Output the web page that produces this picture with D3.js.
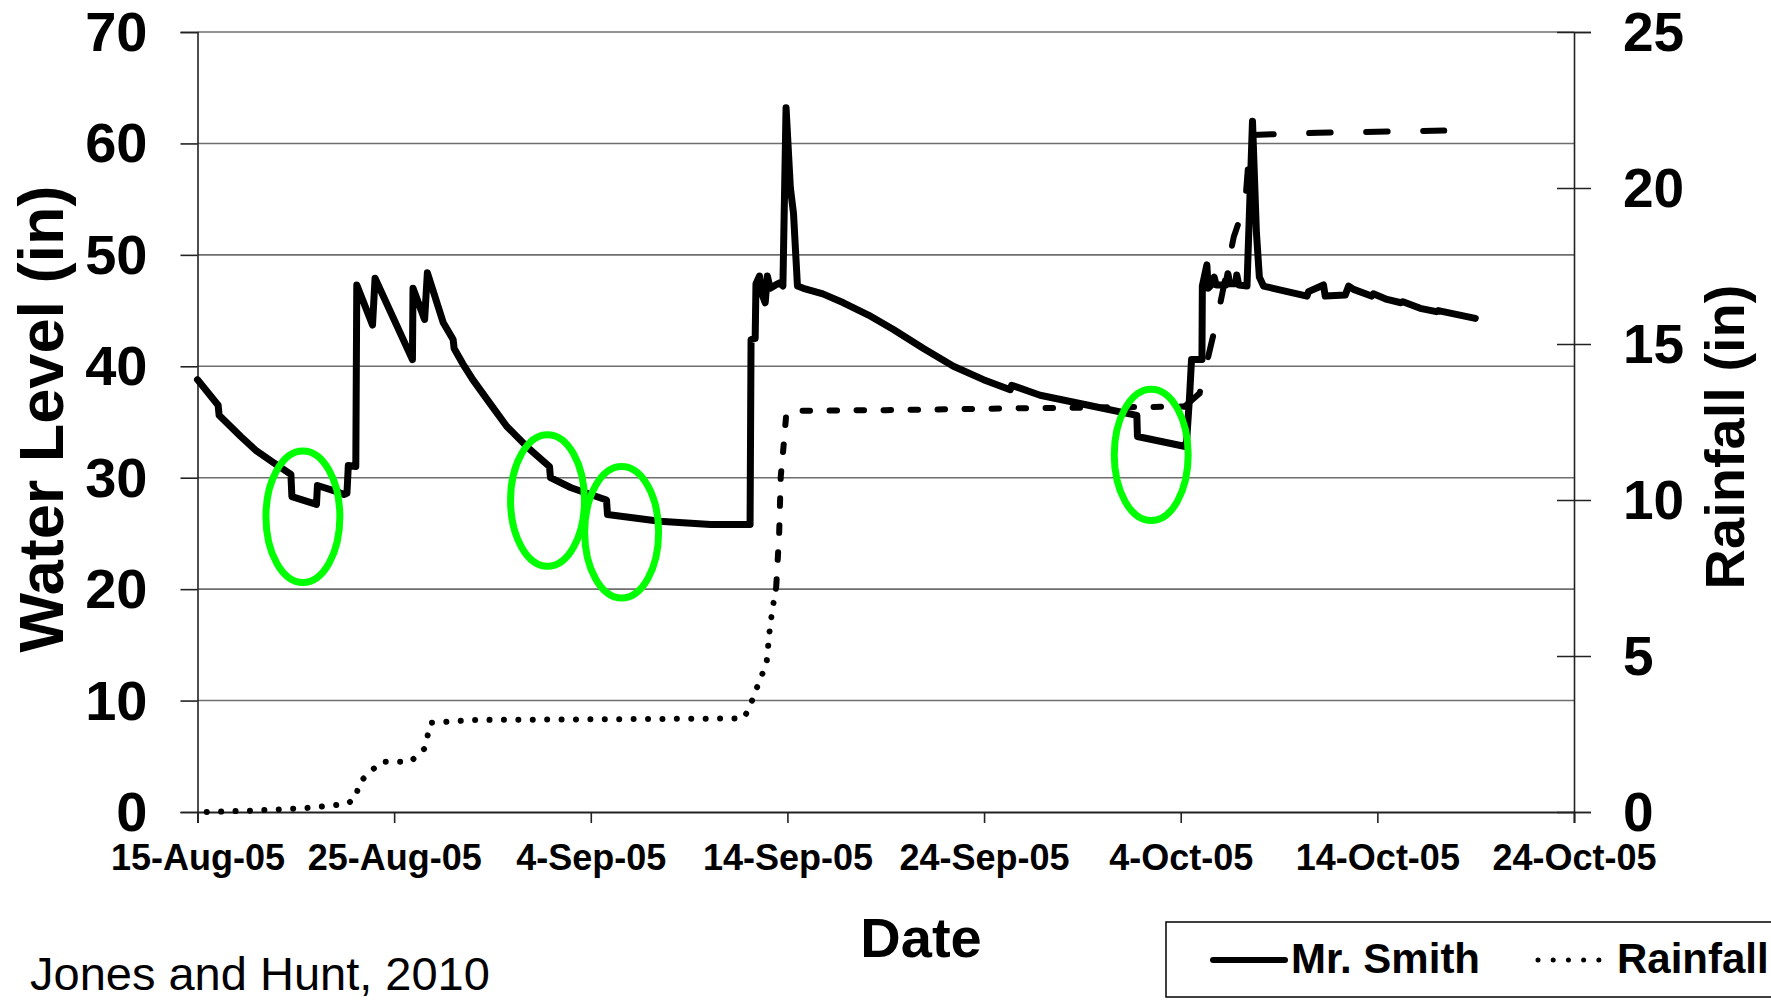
<!DOCTYPE html>
<html>
<head>
<meta charset="utf-8">
<script src="https://cdn.jsdelivr.net/npm/d3@7"></script>
<style>
  html, body { margin: 0; padding: 0; background: #fff; }
  svg { display: block; }
  text { font-family: "Liberation Sans", Arial, sans-serif; fill: #000; }
</style>
</head>
<body>
<svg id="chart" width="1771" height="1000"></svg>
<script>
// ---------------- DATA ----------------
// Time is given as days elapsed since 15-Aug-2005 00:00.
const startDate = "2005-08-15";
const endDate = "2005-10-24";
const xTickDates = ["2005-08-15","2005-08-25","2005-09-04","2005-09-14","2005-09-24","2005-10-04","2005-10-14","2005-10-24"];
const waterTicks = [0, 10, 20, 30, 40, 50, 60, 70];
const rainTicks = [0, 5, 10, 15, 20, 25];

// Mr. Smith water level (in)
const waterDays = [0.0, 1.05, 1.1, 2.2, 3.0, 3.9, 4.75, 4.8, 6.05, 6.1, 7.0, 7.45, 7.6, 7.67, 8.05, 8.1, 8.9, 9.03,
  10.93, 10.96, 11.55, 11.69, 12.5, 13.0, 13.05, 13.5, 14.0, 14.9, 15.73, 16.8, 17.9, 17.95, 19.0, 20.8, 20.85, 23.5, 26.1,
  28.1, 28.15, 28.36, 28.4, 28.58, 28.7, 28.87, 28.98, 29.12, 29.4, 29.63, 29.77, 29.93, 30.15, 30.31, 30.51, 30.81,
  31.8, 32.85, 34.12, 35.39, 36.92, 38.44, 39.97, 41.33, 41.4, 42.85, 45.3, 47.77, 47.8, 50.23, 50.3, 50.45, 50.55, 51.08, 51.1, 51.33, 51.4,
  51.6, 51.7, 51.8, 52.3, 52.4, 52.5, 52.8, 52.85, 52.95, 53.37, 53.65, 53.85, 54.0, 54.21, 54.7, 56.42, 56.5,
  57.26, 57.35, 58.37, 58.54, 58.79, 59.7, 59.8, 60.49, 61.2, 61.3, 62.18, 63.0, 63.1, 64.98];
const waterLevel = [38.8, 36.5, 35.6, 33.7, 32.4, 31.3, 30.3, 28.3, 27.6, 29.3, 28.8, 28.5, 28.6, 31.1, 31.0, 47.3, 43.7, 47.9,
  40.6, 47.0, 44.2, 48.4, 43.9, 42.4, 41.6, 40.2, 38.8, 36.6, 34.6, 32.7, 31.0, 30.0, 29.1, 28.0, 26.7, 26.1, 25.8,
  25.8, 42.4, 42.5, 47.4, 48.1, 46.5, 45.7, 48.1, 47.0, 47.3, 47.5, 47.2, 63.2, 56.0, 53.7, 47.2, 47.0,
  46.5, 45.7, 44.6, 43.3, 41.6, 40.0, 38.8, 37.9, 38.3, 37.4, 36.5, 35.6, 33.7, 32.8, 33.3, 37.3, 40.6, 40.6, 47.2, 49.1, 47.0,
  47.4, 48.0, 47.3, 47.3, 48.3, 47.4, 47.4, 48.2, 47.3, 47.2, 62.0, 52.0, 48.0, 47.2, 47.0, 46.3, 46.7,
  47.3, 46.3, 46.4, 47.2, 46.9, 46.3, 46.5, 46.0, 45.7, 45.8, 45.2, 44.9, 45.0, 44.3];

// Cumulative rainfall (in)
const rainDays = [0.47, 3.0, 5.4, 7.6, 8.06, 8.2, 8.8, 9.37, 10.83, 11.56, 11.71, 11.85, 14.0, 20.0, 27.77,
  28.05, 28.5, 28.94, 29.08, 29.23, 29.43, 29.58, 29.66, 29.8, 29.93, 30.3, 35.0, 41.8, 49.46, 50.2,
  50.96, 51.4, 51.84, 52.7, 53.28, 53.53, 53.6, 57.0, 63.4];
const rainfall = [0, 0.05, 0.12, 0.26, 0.45, 0.92, 1.3, 1.61, 1.61, 2.04, 2.47, 2.86, 2.95, 2.97, 3.0,
  3.32, 4.07, 4.77, 5.73, 6.47, 7.22, 8.93, 10.75, 11.7, 12.67, 12.86, 12.88, 12.94, 12.99, 13.0,
  13.42, 14.6, 15.77, 18.44, 19.5, 21.6, 21.7, 21.77, 21.84];

// Highlight ellipses (centre: day, water level)
const markDays = [5.36, 17.8, 21.57, 48.5];
const markLevels = [26.5, 27.96, 25.1, 32.05];

const seriesNames = ["Mr. Smith", "Rainfall"];

// ---------------- CHART ----------------
const svg = d3.select("#chart");
const W = 1771, H = 1000;
const plot = { left: 197.5, right: 1574, top: 32, bottom: 812 };
const parse = d3.utcParse("%Y-%m-%d");
const t0 = parse(startDate);
const toDate = d => new Date(t0.getTime() + d * 864e5);

const x = d3.scaleUtc().domain([t0, parse(endDate)]).range([plot.left, plot.right]);
const yL = d3.scaleLinear().domain([0, 70]).range([plot.bottom, plot.top]);
const yR = d3.scaleLinear().domain([0, 25]).range([plot.bottom, plot.top]);

svg.append("rect").attr("width", W).attr("height", H).attr("fill", "#fff");

// gridlines
svg.append("g").selectAll("line").data(waterTicks.filter(v => v > 0)).join("line")
  .attr("x1", plot.left).attr("x2", plot.right)
  .attr("y1", d => yL(d)).attr("y2", d => yL(d))
  .attr("stroke", "#6e6e6e").attr("stroke-width", 1.6);

// Left axis
const gL = svg.append("g").attr("transform", `translate(${plot.left},0)`)
  .call(d3.axisLeft(yL).tickValues(waterTicks).tickSize(17).tickFormat(d3.format("d")));
gL.select(".domain").attr("stroke", "#222").attr("stroke-width", 1.6);
gL.selectAll(".tick line").attr("stroke", "#222").attr("stroke-width", 1.6);
gL.selectAll(".tick text").attr("x", -50).attr("dy", "0.33em")
  .style("font-family", "Liberation Sans, Arial, sans-serif").style("font-size", "56px").style("font-weight", "bold");

// Right axis (cross ticks)
const gR = svg.append("g").attr("transform", `translate(${plot.right},0)`)
  .call(d3.axisRight(yR).tickValues(rainTicks).tickSize(17).tickFormat(d3.format("d")));
gR.select(".domain").attr("stroke", "#222").attr("stroke-width", 1.6);
gR.selectAll(".tick line").attr("x1", -17).attr("stroke", "#222").attr("stroke-width", 1.6);
gR.selectAll(".tick text").attr("x", 49).attr("dy", "0.33em")
  .style("font-family", "Liberation Sans, Arial, sans-serif").style("font-size", "55px").style("font-weight", "bold");

// Bottom axis
const fmt = d3.utcFormat("%-d-%b-%y");
const gB = svg.append("g").attr("transform", `translate(0,${plot.bottom})`)
  .call(d3.axisBottom(x).tickValues(xTickDates.map(parse)).tickSize(11).tickFormat(fmt));
gB.select(".domain").attr("stroke", "#222").attr("stroke-width", 1.8);
gB.selectAll(".tick line").attr("stroke", "#222").attr("stroke-width", 1.6);
gB.selectAll(".tick text").attr("y", 58).attr("dy", 0)
  .style("font-family", "Liberation Sans, Arial, sans-serif").style("font-size", "36px").style("font-weight", "bold");

// Rainfall line (pattern changes with data density in original)
const rainPts = rainDays.map((d, i) => [toDate(d), rainfall[i]]);
const rainLine = d3.line().x(p => x(p[0])).y(p => yR(p[1]));
const segBreaks = [0, 20, 29, rainPts.length - 1];
const segDash = ["0.01 14.4", "7.5 19.5", "21.5 35.5"];
for (let s = 0; s < 3; s++) {
  svg.append("path")
    .attr("d", rainLine(rainPts.slice(segBreaks[s], segBreaks[s + 1] + 1)))
    .attr("fill", "none").attr("stroke", "#000").attr("stroke-width", 6)
    .attr("stroke-linecap", "round").attr("stroke-dasharray", segDash[s]);
}

// Water level line
const waterPts = waterDays.map((d, i) => [toDate(d), waterLevel[i]]);
svg.append("path")
  .attr("d", d3.line().x(p => x(p[0])).y(p => yL(p[1]))(waterPts))
  .attr("fill", "none").attr("stroke", "#000").attr("stroke-width", 7)
  .attr("stroke-linejoin", "round").attr("stroke-linecap", "round");

// Green ellipses
svg.append("g").selectAll("ellipse").data(markDays).join("ellipse")
  .attr("cx", d => x(toDate(d)))
  .attr("cy", (d, i) => yL(markLevels[i]))
  .attr("rx", d => x(toDate(d + 1.88)) - x(toDate(d)))
  .attr("ry", (d, i) => yL(markLevels[i]) - yL(markLevels[i] + 5.9))
  .attr("fill", "none").attr("stroke", "#00ff00").attr("stroke-width", 7);

// Axis titles
svg.append("text").attr("transform", "translate(63,419) rotate(-90)")
  .attr("text-anchor", "middle").style("font-size", "63px").style("font-weight", "bold")
  .text("Water Level (in)");
svg.append("text").attr("transform", "translate(1744,437) rotate(-90)")
  .attr("text-anchor", "middle").style("font-size", "56px").style("font-weight", "bold")
  .text("Rainfall (in)");
svg.append("text").attr("x", 921).attr("y", 957).attr("text-anchor", "middle")
  .style("font-size", "56px").style("font-weight", "bold").text("Date");
svg.append("text").attr("x", 30).attr("y", 990)
  .style("font-size", "47px").text("Jones and Hunt, 2010");

// Legend
const lg = svg.append("g");
lg.append("rect").attr("x", 1166).attr("y", 922).attr("width", 700).attr("height", 75)
  .attr("fill", "#fff").attr("stroke", "#000").attr("stroke-width", 1.5);
lg.append("line").attr("x1", 1213).attr("x2", 1285).attr("y1", 960).attr("y2", 960)
  .attr("stroke", "#000").attr("stroke-width", 6).attr("stroke-linecap", "round");
lg.append("text").attr("x", 1291).attr("y", 973).style("font-size", "42px").style("font-weight", "bold").text(seriesNames[0]);
lg.append("line").attr("x1", 1538).attr("x2", 1599).attr("y1", 960).attr("y2", 960)
  .attr("stroke", "#000").attr("stroke-width", 5).attr("stroke-linecap", "round").attr("stroke-dasharray", "0.01 15.2");
lg.append("text").attr("x", 1617).attr("y", 973).style("font-size", "42px").style("font-weight", "bold").text(seriesNames[1]);
</script>
</body>
</html>
